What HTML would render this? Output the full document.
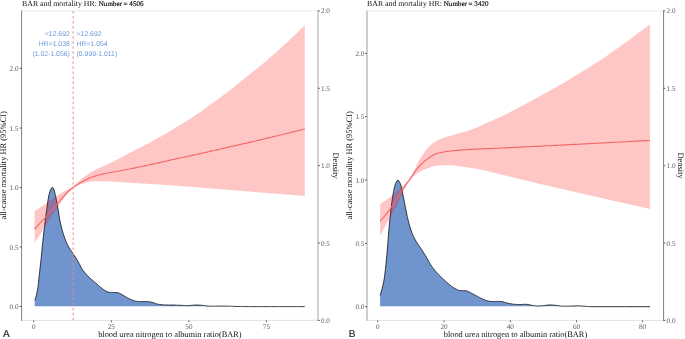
<!DOCTYPE html>
<html><head><meta charset="utf-8"><title>BAR and mortality HR</title>
<style>html,body{margin:0;padding:0;background:#fff}svg{display:block}text{text-rendering:geometricPrecision}</style></head>
<body>
<svg width="685" height="339" viewBox="0 0 685 339">
<rect width="685" height="339" fill="#ffffff"/>
<line x1="21.55" y1="10.9" x2="318.05" y2="10.9" stroke="#e6e6e6" stroke-width="0.9"/>
<line x1="21.55" y1="320.4" x2="318.05" y2="320.4" stroke="#dcdcdc" stroke-width="0.9"/>
<polygon points="34.7,300.5 35.6,298.1 36.2,296.0 36.5,294.8 37.4,290.7 37.7,289.0 38.3,284.3 39.2,275.8 39.3,275.0 40.1,267.9 41.0,260.0 41.0,259.8 41.9,250.5 42.6,243.7 42.8,241.6 43.7,233.6 44.5,227.2 44.6,226.1 45.5,218.7 46.4,211.6 46.9,208.3 47.3,205.2 48.2,199.2 49.1,194.4 49.2,194.2 50.1,191.1 50.8,189.2 51.0,188.9 51.9,187.5 52.3,187.3 52.8,187.5 53.7,188.9 53.8,189.2 54.6,191.8 55.1,194.2 55.5,195.8 56.4,200.1 57.3,204.8 57.5,206.0 58.2,210.1 59.1,216.0 59.8,220.1 60.0,221.0 60.9,225.0 61.8,228.7 62.7,231.9 63.4,234.2 63.6,234.8 64.5,237.5 65.4,239.9 66.3,242.2 67.2,244.2 68.1,246.0 68.1,246.0 69.0,247.6 69.9,249.0 70.8,250.3 71.7,251.6 72.6,252.8 73.4,254.0 73.5,254.2 74.4,255.6 75.3,257.0 76.2,258.4 77.1,259.9 77.5,260.5 78.0,261.5 78.9,263.2 79.9,264.9 80.8,266.7 81.7,268.4 82.6,269.8 82.9,270.3 83.5,271.0 84.4,272.2 85.3,273.2 86.2,274.3 87.1,275.2 88.0,276.1 88.9,277.0 89.8,277.9 90.7,278.7 91.6,279.5 92.5,280.3 93.4,281.1 94.3,281.8 95.2,282.6 95.5,282.9 96.1,283.4 97.0,284.2 97.9,285.0 98.8,285.8 99.7,286.6 100.6,287.3 101.5,288.0 102.4,288.7 103.3,289.4 104.0,289.8 104.2,290.0 105.1,290.6 106.0,291.2 106.9,291.6 107.8,292.0 108.0,292.0 108.7,292.1 109.6,292.3 110.6,292.4 111.5,292.4 112.4,292.5 112.5,292.5 113.3,292.5 114.2,292.5 115.1,292.6 116.0,292.6 116.8,292.6 116.9,292.6 117.8,292.7 118.7,293.0 119.6,293.4 120.5,293.8 121.0,294.0 121.4,294.2 122.3,294.7 123.2,295.2 124.1,295.8 125.0,296.4 125.6,296.7 125.9,296.9 126.8,297.4 127.7,297.9 128.6,298.4 129.5,298.8 130.4,299.2 131.0,299.5 131.3,299.6 132.2,300.0 133.1,300.4 134.0,300.8 134.9,301.1 135.7,301.2 135.8,301.2 136.7,301.3 137.6,301.4 138.5,301.5 139.4,301.5 140.4,301.6 141.3,301.6 142.0,301.6 142.2,301.6 143.1,301.6 144.0,301.6 144.9,301.6 145.8,301.6 146.7,301.6 147.6,301.6 148.2,301.6 148.5,301.6 149.4,301.7 150.3,301.9 151.2,302.1 152.1,302.4 153.0,302.6 153.0,302.6 153.9,302.9 154.8,303.2 155.7,303.5 156.6,303.9 157.5,304.1 158.3,304.3 158.4,304.3 159.3,304.4 160.2,304.5 161.1,304.6 162.0,304.7 162.9,304.8 163.8,304.9 164.7,304.9 165.0,304.9 165.6,304.9 166.5,304.9 167.4,304.9 168.3,305.0 169.2,305.0 170.2,305.0 171.1,305.0 172.0,305.0 172.0,305.0 172.9,305.0 173.8,305.0 174.7,305.1 175.6,305.1 176.5,305.2 177.4,305.2 178.3,305.2 179.2,305.3 180.0,305.3 180.1,305.3 181.0,305.3 181.9,305.4 182.8,305.4 183.7,305.5 184.6,305.5 185.5,305.6 186.4,305.6 187.3,305.6 188.0,305.6 188.2,305.6 189.1,305.6 190.0,305.5 190.9,305.4 191.8,305.3 192.7,305.2 193.6,305.1 194.5,305.1 195.4,305.0 196.0,305.0 196.3,305.0 197.2,305.0 198.1,305.1 199.0,305.1 200.0,305.2 200.9,305.2 201.8,305.3 202.7,305.4 203.0,305.4 203.6,305.5 204.5,305.6 205.4,305.7 206.3,305.8 207.2,306.0 208.1,306.1 209.0,306.2 209.9,306.2 210.0,306.2 210.8,306.2 211.7,306.2 212.6,306.2 213.5,306.2 214.4,306.2 215.3,306.2 216.2,306.2 217.1,306.2 218.0,306.1 218.9,306.1 219.8,306.1 220.7,306.1 221.6,306.1 222.5,306.1 223.4,306.1 224.3,306.1 225.0,306.1 225.2,306.1 226.1,306.1 227.0,306.1 227.9,306.1 228.8,306.2 229.8,306.2 230.7,306.2 231.6,306.3 232.5,306.3 233.4,306.4 234.3,306.4 235.2,306.4 236.1,306.5 237.0,306.5 237.9,306.5 238.0,306.5 238.8,306.5 239.7,306.5 240.6,306.5 241.5,306.5 242.4,306.5 243.3,306.5 244.2,306.6 245.1,306.6 246.0,306.6 246.9,306.6 247.8,306.6 248.7,306.6 249.6,306.6 250.5,306.6 251.4,306.6 252.3,306.6 253.2,306.6 254.1,306.6 255.0,306.6 255.0,306.6 255.9,306.6 256.8,306.6 257.7,306.6 258.6,306.6 259.5,306.6 260.5,306.6 261.4,306.6 262.3,306.6 263.2,306.6 264.1,306.6 265.0,306.6 265.9,306.6 266.8,306.6 267.7,306.6 268.6,306.6 269.5,306.6 270.4,306.6 271.3,306.6 272.2,306.6 273.1,306.6 274.0,306.6 274.9,306.6 275.8,306.6 276.7,306.6 277.6,306.6 278.5,306.6 279.4,306.6 280.3,306.6 281.2,306.6 282.1,306.6 283.0,306.6 283.9,306.6 284.8,306.6 285.7,306.6 286.6,306.6 287.5,306.6 288.4,306.6 289.3,306.6 290.3,306.6 291.2,306.6 292.1,306.6 293.0,306.6 293.9,306.6 294.8,306.6 295.7,306.6 296.6,306.6 297.5,306.6 298.4,306.6 299.3,306.6 300.2,306.6 301.1,306.6 302.0,306.6 302.9,306.6 303.8,306.6 304.7,306.6 304.7,306.3 34.7,306.3" fill="#6f94ce"/>
<polyline points="34.7,300.5 35.6,298.1 36.2,296.0 36.5,294.8 37.4,290.7 37.7,289.0 38.3,284.3 39.2,275.8 39.3,275.0 40.1,267.9 41.0,260.0 41.0,259.8 41.9,250.5 42.6,243.7 42.8,241.6 43.7,233.6 44.5,227.2 44.6,226.1 45.5,218.7 46.4,211.6 46.9,208.3 47.3,205.2 48.2,199.2 49.1,194.4 49.2,194.2 50.1,191.1 50.8,189.2 51.0,188.9 51.9,187.5 52.3,187.3 52.8,187.5 53.7,188.9 53.8,189.2 54.6,191.8 55.1,194.2 55.5,195.8 56.4,200.1 57.3,204.8 57.5,206.0 58.2,210.1 59.1,216.0 59.8,220.1 60.0,221.0 60.9,225.0 61.8,228.7 62.7,231.9 63.4,234.2 63.6,234.8 64.5,237.5 65.4,239.9 66.3,242.2 67.2,244.2 68.1,246.0 68.1,246.0 69.0,247.6 69.9,249.0 70.8,250.3 71.7,251.6 72.6,252.8 73.4,254.0 73.5,254.2 74.4,255.6 75.3,257.0 76.2,258.4 77.1,259.9 77.5,260.5 78.0,261.5 78.9,263.2 79.9,264.9 80.8,266.7 81.7,268.4 82.6,269.8 82.9,270.3 83.5,271.0 84.4,272.2 85.3,273.2 86.2,274.3 87.1,275.2 88.0,276.1 88.9,277.0 89.8,277.9 90.7,278.7 91.6,279.5 92.5,280.3 93.4,281.1 94.3,281.8 95.2,282.6 95.5,282.9 96.1,283.4 97.0,284.2 97.9,285.0 98.8,285.8 99.7,286.6 100.6,287.3 101.5,288.0 102.4,288.7 103.3,289.4 104.0,289.8 104.2,290.0 105.1,290.6 106.0,291.2 106.9,291.6 107.8,292.0 108.0,292.0 108.7,292.1 109.6,292.3 110.6,292.4 111.5,292.4 112.4,292.5 112.5,292.5 113.3,292.5 114.2,292.5 115.1,292.6 116.0,292.6 116.8,292.6 116.9,292.6 117.8,292.7 118.7,293.0 119.6,293.4 120.5,293.8 121.0,294.0 121.4,294.2 122.3,294.7 123.2,295.2 124.1,295.8 125.0,296.4 125.6,296.7 125.9,296.9 126.8,297.4 127.7,297.9 128.6,298.4 129.5,298.8 130.4,299.2 131.0,299.5 131.3,299.6 132.2,300.0 133.1,300.4 134.0,300.8 134.9,301.1 135.7,301.2 135.8,301.2 136.7,301.3 137.6,301.4 138.5,301.5 139.4,301.5 140.4,301.6 141.3,301.6 142.0,301.6 142.2,301.6 143.1,301.6 144.0,301.6 144.9,301.6 145.8,301.6 146.7,301.6 147.6,301.6 148.2,301.6 148.5,301.6 149.4,301.7 150.3,301.9 151.2,302.1 152.1,302.4 153.0,302.6 153.0,302.6 153.9,302.9 154.8,303.2 155.7,303.5 156.6,303.9 157.5,304.1 158.3,304.3 158.4,304.3 159.3,304.4 160.2,304.5 161.1,304.6 162.0,304.7 162.9,304.8 163.8,304.9 164.7,304.9 165.0,304.9 165.6,304.9 166.5,304.9 167.4,304.9 168.3,305.0 169.2,305.0 170.2,305.0 171.1,305.0 172.0,305.0 172.0,305.0 172.9,305.0 173.8,305.0 174.7,305.1 175.6,305.1 176.5,305.2 177.4,305.2 178.3,305.2 179.2,305.3 180.0,305.3 180.1,305.3 181.0,305.3 181.9,305.4 182.8,305.4 183.7,305.5 184.6,305.5 185.5,305.6 186.4,305.6 187.3,305.6 188.0,305.6 188.2,305.6 189.1,305.6 190.0,305.5 190.9,305.4 191.8,305.3 192.7,305.2 193.6,305.1 194.5,305.1 195.4,305.0 196.0,305.0 196.3,305.0 197.2,305.0 198.1,305.1 199.0,305.1 200.0,305.2 200.9,305.2 201.8,305.3 202.7,305.4 203.0,305.4 203.6,305.5 204.5,305.6 205.4,305.7 206.3,305.8 207.2,306.0 208.1,306.1 209.0,306.2 209.9,306.2 210.0,306.2 210.8,306.2 211.7,306.2 212.6,306.2 213.5,306.2 214.4,306.2 215.3,306.2 216.2,306.2 217.1,306.2 218.0,306.1 218.9,306.1 219.8,306.1 220.7,306.1 221.6,306.1 222.5,306.1 223.4,306.1 224.3,306.1 225.0,306.1 225.2,306.1 226.1,306.1 227.0,306.1 227.9,306.1 228.8,306.2 229.8,306.2 230.7,306.2 231.6,306.3 232.5,306.3 233.4,306.4 234.3,306.4 235.2,306.4 236.1,306.5 237.0,306.5 237.9,306.5 238.0,306.5 238.8,306.5 239.7,306.5 240.6,306.5 241.5,306.5 242.4,306.5 243.3,306.5 244.2,306.6 245.1,306.6 246.0,306.6 246.9,306.6 247.8,306.6 248.7,306.6 249.6,306.6 250.5,306.6 251.4,306.6 252.3,306.6 253.2,306.6 254.1,306.6 255.0,306.6 255.0,306.6 255.9,306.6 256.8,306.6 257.7,306.6 258.6,306.6 259.5,306.6 260.5,306.6 261.4,306.6 262.3,306.6 263.2,306.6 264.1,306.6 265.0,306.6 265.9,306.6 266.8,306.6 267.7,306.6 268.6,306.6 269.5,306.6 270.4,306.6 271.3,306.6 272.2,306.6 273.1,306.6 274.0,306.6 274.9,306.6 275.8,306.6 276.7,306.6 277.6,306.6 278.5,306.6 279.4,306.6 280.3,306.6 281.2,306.6 282.1,306.6 283.0,306.6 283.9,306.6 284.8,306.6 285.7,306.6 286.6,306.6 287.5,306.6 288.4,306.6 289.3,306.6 290.3,306.6 291.2,306.6 292.1,306.6 293.0,306.6 293.9,306.6 294.8,306.6 295.7,306.6 296.6,306.6 297.5,306.6 298.4,306.6 299.3,306.6 300.2,306.6 301.1,306.6 302.0,306.6 302.9,306.6 303.8,306.6 304.7,306.6" fill="none" stroke="#1a1a1a" stroke-width="0.85" stroke-linejoin="round"/>
<polygon points="34.6,211.2 36.0,210.3 37.3,209.4 38.7,208.5 40.0,207.6 41.4,206.6 42.2,206.1 42.7,205.7 44.1,204.8 45.5,203.9 46.8,202.9 47.6,202.4 48.2,202.0 49.5,201.1 50.9,200.1 52.3,199.2 52.4,199.1 53.6,198.2 55.0,197.3 56.3,196.3 57.1,195.8 57.7,195.4 59.0,194.5 60.4,193.7 61.0,193.3 61.8,192.8 63.1,192.0 64.5,191.2 65.1,190.8 65.8,190.4 67.2,189.7 68.5,188.9 69.0,188.7 69.9,188.3 71.3,187.6 72.6,186.9 73.3,186.5 74.0,186.0 75.3,184.7 76.7,183.2 77.7,182.2 78.0,181.9 79.4,180.7 80.8,179.5 82.1,178.4 82.1,178.4 83.5,177.3 84.8,176.3 86.2,175.4 87.6,174.4 88.9,173.6 89.5,173.2 90.3,172.7 91.6,171.9 93.0,171.2 94.3,170.5 95.7,169.8 96.8,169.2 97.1,169.1 98.4,168.4 99.8,167.8 101.1,167.2 102.5,166.6 103.8,166.0 104.2,165.8 105.2,165.3 106.6,164.7 107.9,164.1 109.3,163.5 110.6,162.8 111.5,162.4 112.0,162.2 113.4,161.5 114.7,160.8 116.1,160.1 117.4,159.5 118.8,158.8 118.9,158.7 120.1,158.0 121.5,157.3 122.9,156.6 124.2,155.8 125.6,155.1 126.9,154.3 128.3,153.6 129.6,152.9 130.0,152.7 131.0,152.2 132.4,151.5 133.7,150.8 135.1,150.1 136.4,149.4 137.8,148.8 139.1,148.1 140.5,147.4 141.9,146.7 143.2,146.0 144.6,145.3 145.6,144.8 145.9,144.6 147.3,143.9 148.7,143.2 150.0,142.5 151.4,141.7 152.7,141.0 154.1,140.3 155.4,139.5 156.8,138.8 158.2,138.0 158.2,138.0 159.5,137.3 160.9,136.5 162.2,135.7 163.5,135.0 163.6,134.9 164.9,134.2 166.3,133.3 167.7,132.5 169.0,131.7 170.4,130.9 171.7,130.1 172.0,129.9 173.1,129.2 174.5,128.4 175.8,127.6 177.2,126.8 178.5,125.9 179.9,125.1 181.2,124.3 182.6,123.5 184.0,122.6 185.3,121.8 186.7,120.9 188.0,120.1 189.4,119.2 190.7,118.4 192.1,117.5 193.5,116.6 193.6,116.5 194.8,115.7 196.2,114.8 197.5,113.8 198.9,112.9 200.3,111.9 201.6,111.0 203.0,110.0 204.3,109.0 205.7,108.1 207.0,107.1 208.4,106.1 209.8,105.1 211.1,104.1 212.5,103.1 213.8,102.1 215.2,101.2 216.5,100.2 216.8,100.0 217.9,99.2 219.3,98.2 220.6,97.3 222.0,96.3 223.3,95.3 223.7,95.0 224.7,94.3 226.0,93.2 227.4,92.2 228.8,91.1 230.1,90.0 231.5,88.9 232.8,87.9 234.2,86.8 235.6,85.7 236.9,84.6 238.3,83.5 239.6,82.4 241.0,81.3 242.1,80.4 242.3,80.2 243.7,79.1 245.1,78.0 246.4,77.0 247.8,75.9 249.1,74.8 250.5,73.7 251.8,72.6 253.2,71.5 254.6,70.4 255.9,69.4 257.3,68.3 258.6,67.2 260.0,66.1 261.4,64.9 262.7,63.8 264.1,62.7 265.4,61.6 266.8,60.4 267.3,60.0 268.1,59.3 269.5,58.1 270.9,57.0 272.2,55.8 273.6,54.6 274.9,53.4 276.3,52.2 277.6,51.0 279.0,49.8 280.0,48.9 280.4,48.6 281.7,47.3 283.1,46.1 284.4,44.8 285.8,43.6 287.1,42.3 288.5,41.0 289.9,39.7 291.2,38.4 292.6,37.1 292.6,37.1 293.9,35.8 295.3,34.5 296.7,33.2 298.0,31.8 299.4,30.5 300.7,29.1 302.1,27.8 303.4,26.4 304.8,25.0 304.8,195.9 303.4,195.8 302.1,195.7 300.7,195.6 299.4,195.5 298.0,195.4 296.7,195.3 295.3,195.2 293.9,195.1 292.6,195.0 291.2,194.8 289.9,194.7 288.5,194.6 287.1,194.5 285.8,194.4 284.4,194.3 283.1,194.2 281.7,194.1 280.4,194.0 279.0,193.9 277.6,193.8 276.3,193.7 274.9,193.6 273.6,193.5 272.2,193.4 270.9,193.3 269.5,193.1 268.1,193.0 266.8,192.9 265.4,192.8 264.1,192.7 262.7,192.6 261.4,192.5 260.0,192.4 258.6,192.3 257.3,192.2 255.9,192.1 254.6,192.0 253.2,191.9 251.8,191.7 250.5,191.6 249.1,191.5 247.8,191.4 246.4,191.3 245.1,191.2 243.7,191.1 242.3,191.0 241.0,190.9 239.6,190.8 238.3,190.7 236.9,190.6 235.6,190.4 234.2,190.3 232.8,190.2 231.5,190.1 230.1,190.0 230.0,190.0 228.8,189.9 227.4,189.8 226.0,189.7 224.7,189.6 223.3,189.5 222.0,189.3 220.6,189.2 219.3,189.1 217.9,189.0 216.5,188.9 215.2,188.8 213.8,188.7 212.5,188.6 211.1,188.4 209.8,188.3 208.4,188.2 207.0,188.1 205.7,188.0 204.3,187.9 203.0,187.8 201.6,187.7 200.3,187.5 198.9,187.4 197.5,187.3 196.2,187.2 194.8,187.1 193.5,187.0 192.1,186.9 192.1,186.9 190.7,186.8 189.4,186.7 188.0,186.6 186.7,186.5 185.3,186.4 184.0,186.3 182.6,186.2 181.2,186.1 179.9,186.0 178.5,185.9 177.2,185.8 175.8,185.7 174.5,185.6 173.1,185.5 172.0,185.4 171.7,185.4 170.4,185.3 169.0,185.2 167.7,185.1 166.3,185.0 164.9,184.9 163.6,184.8 162.2,184.8 160.9,184.7 159.5,184.6 158.2,184.5 156.8,184.4 155.4,184.3 154.1,184.3 152.7,184.2 151.4,184.1 150.0,184.0 150.0,184.0 148.7,183.9 147.3,183.8 145.9,183.7 144.6,183.6 143.2,183.6 141.9,183.5 140.5,183.4 139.1,183.3 137.8,183.2 136.4,183.1 135.1,183.0 133.7,182.9 132.4,182.9 131.0,182.8 130.0,182.7 129.6,182.7 128.3,182.6 126.9,182.5 125.6,182.4 124.2,182.3 122.9,182.2 121.5,182.2 120.1,182.1 118.9,182.0 118.8,182.0 117.4,181.9 116.1,181.8 114.7,181.8 113.4,181.7 112.0,181.6 111.5,181.6 110.6,181.6 109.3,181.5 107.9,181.4 106.6,181.3 105.2,181.3 104.2,181.3 103.8,181.3 102.5,181.3 101.1,181.3 99.8,181.3 98.4,181.3 97.1,181.3 96.8,181.3 95.7,181.3 94.3,181.4 93.0,181.5 91.6,181.6 90.3,181.8 89.5,181.9 88.9,182.0 87.6,182.2 86.2,182.6 84.8,182.9 83.5,183.4 82.1,183.8 82.1,183.8 80.8,184.3 79.4,184.8 78.0,185.4 77.7,185.6 76.7,186.1 75.3,186.9 74.0,187.8 73.3,188.3 72.6,188.8 71.3,190.0 69.9,191.4 69.0,192.3 68.5,192.8 67.2,194.2 65.8,195.7 65.1,196.6 64.5,197.4 63.1,199.3 61.8,201.2 61.0,202.3 60.4,203.2 59.0,205.2 57.9,206.9 57.7,207.2 56.3,209.3 55.0,211.4 53.6,213.4 52.4,215.3 52.3,215.5 50.9,217.6 49.5,219.7 48.2,221.8 47.6,222.7 46.8,223.9 45.5,226.0 44.1,228.1 42.7,230.2 42.2,231.0 41.4,232.3 40.0,234.4 38.7,236.5 37.3,238.6 36.0,240.7 34.6,242.8" fill="#ff0000" fill-opacity="0.225"/>
<polyline points="34.6,229.0 36.0,227.5 37.3,226.1 38.7,224.6 40.0,223.1 41.4,221.7 42.2,220.8 42.7,220.2 44.1,218.8 45.5,217.3 46.8,215.9 47.6,215.0 48.2,214.4 49.5,212.8 50.9,211.2 52.3,209.7 52.4,209.5 53.6,208.1 55.0,206.5 56.3,204.9 57.1,204.0 57.7,203.3 59.0,201.7 60.4,200.1 61.0,199.4 61.8,198.5 63.1,196.9 64.5,195.3 65.1,194.6 65.8,193.8 67.2,192.4 68.5,191.1 69.0,190.7 69.9,189.9 71.3,188.9 72.6,187.9 73.3,187.4 74.0,186.9 75.3,186.0 76.7,185.1 77.7,184.4 78.0,184.2 79.4,183.3 80.8,182.5 82.1,181.8 82.1,181.8 83.5,181.0 84.8,180.3 86.2,179.6 87.6,179.0 88.9,178.3 89.5,178.1 90.3,177.8 91.6,177.3 93.0,176.8 94.3,176.4 95.7,175.9 96.8,175.6 97.1,175.5 98.4,175.1 99.8,174.8 101.1,174.4 102.5,174.1 103.8,173.8 104.2,173.7 105.2,173.5 106.6,173.2 107.9,173.0 109.3,172.7 110.6,172.5 111.5,172.3 112.0,172.2 113.4,172.0 114.7,171.7 116.1,171.5 117.4,171.3 118.8,171.0 118.9,171.0 120.1,170.8 121.5,170.5 122.9,170.3 124.2,170.0 125.6,169.8 126.9,169.5 128.3,169.2 129.6,169.0 130.0,168.9 131.0,168.7 132.4,168.4 133.7,168.2 135.1,167.9 136.4,167.6 137.8,167.3 139.1,167.0 140.5,166.7 141.9,166.5 143.2,166.2 144.6,165.9 145.9,165.6 147.3,165.3 148.7,165.0 150.0,164.7 151.4,164.4 152.7,164.1 154.1,163.8 155.4,163.5 156.8,163.2 158.2,162.9 158.2,162.9 159.5,162.6 160.9,162.3 162.2,162.0 163.6,161.7 164.9,161.4 166.3,161.1 167.7,160.8 169.0,160.4 170.4,160.1 171.7,159.8 173.1,159.5 174.5,159.2 175.0,159.1 175.8,158.9 177.2,158.6 178.5,158.3 179.9,158.0 181.2,157.7 182.6,157.5 184.0,157.2 185.3,156.9 186.7,156.6 188.0,156.3 189.4,156.0 190.7,155.7 192.1,155.4 192.1,155.4 193.5,155.1 194.8,154.8 196.2,154.5 197.5,154.2 198.9,153.9 200.3,153.6 201.6,153.3 203.0,153.0 204.3,152.7 205.7,152.4 207.0,152.1 208.4,151.8 209.8,151.4 211.1,151.1 212.5,150.8 213.8,150.5 215.2,150.2 216.5,149.9 217.9,149.6 219.3,149.3 220.6,149.0 222.0,148.7 223.3,148.4 224.7,148.1 226.0,147.7 227.4,147.4 228.8,147.1 230.1,146.8 231.5,146.5 232.8,146.2 234.2,145.9 235.6,145.6 236.9,145.3 238.3,144.9 239.6,144.6 241.0,144.3 242.3,144.0 243.7,143.7 245.1,143.4 246.4,143.1 247.8,142.7 249.1,142.4 250.5,142.1 251.8,141.8 253.2,141.5 254.6,141.2 255.9,140.8 257.3,140.5 258.6,140.2 260.0,139.9 261.4,139.6 262.7,139.2 264.1,138.9 265.4,138.6 266.8,138.3 268.1,137.9 269.5,137.6 270.9,137.3 272.2,137.0 273.6,136.6 274.9,136.3 276.3,136.0 277.6,135.7 279.0,135.3 280.4,135.0 281.7,134.7 283.1,134.3 284.4,134.0 285.8,133.7 287.1,133.4 288.5,133.0 289.9,132.7 291.2,132.4 292.6,132.0 293.9,131.7 295.3,131.4 296.7,131.0 298.0,130.7 299.4,130.4 300.7,130.0 302.1,129.7 303.4,129.3 304.8,129.0" fill="none" stroke="#f46666" stroke-width="1.15" stroke-linejoin="round"/>
<line x1="73.15" y1="320.4" x2="73.15" y2="10.9" stroke="#f68888" stroke-width="1.0" stroke-dasharray="2.5,2.53"/>
<g font-family="'Liberation Sans', sans-serif" font-size="6.85" fill="#6e98dc">
<text x="69.8" y="36.3" text-anchor="end">&lt;12.692</text>
<text x="69.8" y="46.3" text-anchor="end">HR=1.038</text>
<text x="69.8" y="56.2" text-anchor="end">(1.02-1.056)</text>
<text x="76.6" y="36.3">&gt;12.692</text>
<text x="76.6" y="46.3">HR=1.054</text>
<text x="76.6" y="56.2">(0.999-1.011)</text>
</g>
<line x1="21.55" y1="10.5" x2="21.55" y2="320.79999999999995" stroke="#8c8c8c" stroke-width="1.1"/>
<line x1="318.05" y1="10.5" x2="318.05" y2="320.79999999999995" stroke="#d0d0d0" stroke-width="1.9"/>
<line x1="19.65" y1="68.3" x2="21.65" y2="68.3" stroke="#3a3a3a" stroke-width="0.8"/>
<text x="18.5" y="70.85" text-anchor="end" font-family="'Liberation Serif', serif" font-size="7.15" fill="#585858">2.0</text>
<line x1="19.65" y1="128.0" x2="21.65" y2="128.0" stroke="#3a3a3a" stroke-width="0.8"/>
<text x="18.5" y="130.55" text-anchor="end" font-family="'Liberation Serif', serif" font-size="7.15" fill="#585858">1.5</text>
<line x1="19.65" y1="187.6" x2="21.65" y2="187.6" stroke="#3a3a3a" stroke-width="0.8"/>
<text x="18.5" y="190.15" text-anchor="end" font-family="'Liberation Serif', serif" font-size="7.15" fill="#585858">1.0</text>
<line x1="19.65" y1="247.0" x2="21.65" y2="247.0" stroke="#3a3a3a" stroke-width="0.8"/>
<text x="18.5" y="249.55" text-anchor="end" font-family="'Liberation Serif', serif" font-size="7.15" fill="#585858">0.5</text>
<line x1="19.65" y1="306.5" x2="21.65" y2="306.5" stroke="#3a3a3a" stroke-width="0.8"/>
<text x="18.5" y="309.05" text-anchor="end" font-family="'Liberation Serif', serif" font-size="7.15" fill="#585858">0.0</text>
<line x1="317.95" y1="10.9" x2="319.85" y2="10.9" stroke="#3a3a3a" stroke-width="0.8"/>
<text x="320.9" y="13.45" font-family="'Liberation Serif', serif" font-size="7.15" fill="#585858">2.0</text>
<line x1="317.95" y1="88.3" x2="319.85" y2="88.3" stroke="#3a3a3a" stroke-width="0.8"/>
<text x="320.9" y="90.83" font-family="'Liberation Serif', serif" font-size="7.15" fill="#585858">1.5</text>
<line x1="317.95" y1="165.7" x2="319.85" y2="165.7" stroke="#3a3a3a" stroke-width="0.8"/>
<text x="320.9" y="168.20" font-family="'Liberation Serif', serif" font-size="7.15" fill="#585858">1.0</text>
<line x1="317.95" y1="243.0" x2="319.85" y2="243.0" stroke="#3a3a3a" stroke-width="0.8"/>
<text x="320.9" y="245.58" font-family="'Liberation Serif', serif" font-size="7.15" fill="#585858">0.5</text>
<line x1="317.95" y1="320.4" x2="319.85" y2="320.4" stroke="#3a3a3a" stroke-width="0.8"/>
<text x="320.9" y="322.95" font-family="'Liberation Serif', serif" font-size="7.15" fill="#585858">0.0</text>
<line x1="33.7" y1="320.4" x2="33.7" y2="322.29999999999995" stroke="#3a3a3a" stroke-width="0.8"/>
<text x="33.7" y="328.6" text-anchor="middle" font-family="'Liberation Serif', serif" font-size="7.15" fill="#585858">0</text>
<line x1="111.3" y1="320.4" x2="111.3" y2="322.29999999999995" stroke="#3a3a3a" stroke-width="0.8"/>
<text x="111.3" y="328.6" text-anchor="middle" font-family="'Liberation Serif', serif" font-size="7.15" fill="#585858">25</text>
<line x1="188.9" y1="320.4" x2="188.9" y2="322.29999999999995" stroke="#3a3a3a" stroke-width="0.8"/>
<text x="188.9" y="328.6" text-anchor="middle" font-family="'Liberation Serif', serif" font-size="7.15" fill="#585858">50</text>
<line x1="266.4" y1="320.4" x2="266.4" y2="322.29999999999995" stroke="#3a3a3a" stroke-width="0.8"/>
<text x="266.4" y="328.6" text-anchor="middle" font-family="'Liberation Serif', serif" font-size="7.15" fill="#585858">75</text>
<text x="169.9" y="337.3" text-anchor="middle" font-family="'Liberation Serif', serif" font-size="8.35" fill="#111">blood urea nitrogen to albumin ratio(BAR)</text>
<text transform="translate(6.4,165.4) rotate(-90)" text-anchor="middle" font-family="'Liberation Serif', serif" font-size="8.43" fill="#111">all-cause mortality HR (95%CI)</text>
<text transform="translate(333.0,165.6) rotate(90)" text-anchor="middle" font-family="'Liberation Serif', serif" font-size="8.5" fill="#111">Density</text>
<text x="22.1" y="5.6" font-family="'Liberation Serif', serif" font-size="7.8" fill="#111">BAR and mortality HR: <tspan font-size="7.05" stroke="#111" stroke-width="0.18">Number = 4506</tspan></text>
<text x="2.9" y="337.1" font-family="'Liberation Sans', sans-serif" font-size="10" fill="#1a1a1a" stroke="#1a1a1a" stroke-width="0.15">A</text>
<line x1="366.95" y1="10.9" x2="663.55" y2="10.9" stroke="#e6e6e6" stroke-width="0.9"/>
<line x1="366.95" y1="320.4" x2="663.55" y2="320.4" stroke="#dcdcdc" stroke-width="0.9"/>
<polygon points="380.1,295.4 381.0,292.6 381.9,289.4 382.0,289.0 382.8,285.8 383.7,281.7 384.2,279.0 384.6,276.2 385.5,268.6 385.8,266.0 386.4,259.8 387.3,250.0 387.3,249.8 388.2,238.5 389.0,229.0 389.1,227.6 390.0,218.2 390.9,210.1 390.9,209.9 391.8,202.6 392.7,196.3 393.2,193.6 393.6,191.4 394.5,187.2 395.4,184.1 395.6,183.7 396.3,182.1 397.2,180.6 398.0,180.1 398.1,180.1 399.0,181.1 400.0,182.9 400.3,183.7 400.9,185.3 401.8,189.1 402.7,193.4 402.7,193.6 403.6,197.9 404.5,202.6 405.0,205.4 405.4,207.3 406.3,211.8 407.2,216.2 407.4,217.2 408.1,220.1 409.0,223.7 409.8,226.6 409.9,226.8 410.8,229.6 411.7,232.2 412.6,234.5 413.3,236.1 413.5,236.5 414.4,238.3 415.3,239.9 416.2,241.4 417.1,242.9 418.0,244.3 418.0,244.3 418.9,245.7 419.8,246.9 420.7,248.2 421.6,249.5 421.6,249.5 422.5,250.9 423.4,252.3 424.3,253.8 424.4,253.9 425.2,255.3 426.1,256.8 427.0,258.4 427.9,260.0 428.8,261.6 429.7,263.2 430.6,264.6 431.5,266.0 431.9,266.5 432.4,267.2 433.3,268.4 434.2,269.5 435.1,270.6 436.0,271.7 436.9,272.7 437.8,273.7 438.8,274.7 439.7,275.6 440.6,276.5 441.5,277.4 442.4,278.3 443.3,279.2 444.2,280.0 444.5,280.3 445.1,280.8 446.0,281.6 446.9,282.5 447.8,283.3 448.7,284.0 449.6,284.8 450.5,285.5 451.4,286.2 452.3,286.9 453.2,287.5 454.1,288.0 454.6,288.3 455.0,288.5 455.9,289.0 456.8,289.5 457.7,289.9 458.6,290.2 459.5,290.4 459.6,290.4 460.4,290.5 461.3,290.6 462.2,290.7 463.0,290.7 463.1,290.7 464.0,290.7 464.9,290.8 465.8,290.8 465.9,290.8 466.7,290.9 467.6,291.3 468.5,291.7 469.4,292.1 470.0,292.4 470.3,292.6 471.2,293.0 472.1,293.5 473.0,294.0 473.9,294.5 474.7,294.9 474.8,295.0 475.7,295.5 476.7,295.9 477.6,296.4 478.5,296.9 479.4,297.4 480.3,297.9 481.2,298.3 482.1,298.8 483.0,299.2 483.9,299.6 484.7,299.9 484.8,299.9 485.7,300.3 486.6,300.6 487.5,300.8 488.4,301.1 489.0,301.2 489.3,301.2 490.2,301.4 491.1,301.5 492.0,301.6 492.2,301.6 492.9,301.6 493.8,301.5 494.7,301.5 495.6,301.4 496.5,301.4 497.0,301.4 497.4,301.4 498.3,301.4 499.2,301.4 500.1,301.5 501.0,301.5 501.0,301.5 501.9,301.6 502.8,301.8 503.7,302.1 504.6,302.3 505.0,302.4 505.5,302.5 506.4,302.8 507.3,303.0 508.2,303.3 509.1,303.5 509.8,303.6 510.0,303.6 510.9,303.8 511.8,303.9 512.7,304.1 513.6,304.2 514.5,304.3 515.5,304.4 516.1,304.4 516.4,304.4 517.3,304.4 518.2,304.5 519.1,304.5 520.0,304.5 520.9,304.5 521.0,304.5 521.8,304.5 522.7,304.4 523.6,304.4 524.5,304.3 525.4,304.3 525.6,304.3 526.3,304.3 527.2,304.4 528.1,304.6 529.0,304.7 529.9,304.9 530.8,305.1 531.7,305.3 532.0,305.3 532.6,305.4 533.5,305.5 534.4,305.7 535.3,305.8 536.2,305.9 537.1,306.0 538.0,306.0 538.1,306.0 538.9,306.0 539.8,305.9 540.7,305.8 541.6,305.8 542.5,305.7 543.4,305.6 544.0,305.5 544.3,305.5 545.2,305.4 546.1,305.3 547.0,305.2 547.9,305.1 548.8,305.0 549.7,304.9 550.6,304.9 550.7,304.9 551.5,304.9 552.4,305.0 553.3,305.1 554.3,305.2 555.2,305.3 556.1,305.4 557.0,305.5 557.0,305.5 557.9,305.6 558.8,305.7 559.7,305.9 560.6,306.0 561.5,306.1 562.4,306.2 563.3,306.2 563.3,306.2 564.2,306.2 565.1,306.2 566.0,306.2 566.9,306.2 567.8,306.2 568.7,306.1 569.6,306.1 570.5,306.1 571.0,306.1 571.4,306.1 572.3,306.1 573.2,306.0 574.1,306.0 575.0,305.9 575.9,305.9 576.8,305.8 577.7,305.8 578.3,305.8 578.6,305.8 579.5,305.8 580.4,305.9 581.3,306.0 582.2,306.1 583.1,306.2 584.0,306.2 584.9,306.3 585.8,306.4 586.0,306.4 586.7,306.4 587.6,306.5 588.5,306.5 589.4,306.6 590.3,306.6 591.2,306.7 592.2,306.7 593.1,306.7 593.4,306.7 594.0,306.7 594.9,306.7 595.8,306.7 596.7,306.7 597.6,306.7 598.5,306.7 599.4,306.7 600.3,306.7 601.2,306.7 602.1,306.7 603.0,306.7 603.9,306.7 604.8,306.7 605.7,306.7 606.6,306.7 607.5,306.7 608.4,306.7 609.3,306.7 610.2,306.7 611.1,306.7 612.0,306.7 612.9,306.7 613.8,306.7 614.7,306.7 615.6,306.7 616.5,306.7 617.4,306.7 618.3,306.7 619.2,306.7 620.1,306.7 621.0,306.7 621.9,306.7 622.8,306.7 623.7,306.7 624.6,306.7 625.5,306.7 626.4,306.7 627.3,306.7 628.2,306.7 629.1,306.7 630.0,306.7 631.0,306.7 631.9,306.7 632.8,306.7 633.7,306.7 634.6,306.7 635.5,306.7 636.4,306.7 637.3,306.7 638.2,306.7 639.1,306.7 640.0,306.7 640.9,306.7 641.8,306.7 642.7,306.7 643.6,306.7 644.5,306.7 645.4,306.7 646.3,306.7 647.2,306.7 648.1,306.7 649.0,306.7 649.9,306.7 649.9,306.3 380.1,306.3" fill="#6f94ce"/>
<polyline points="380.1,295.4 381.0,292.6 381.9,289.4 382.0,289.0 382.8,285.8 383.7,281.7 384.2,279.0 384.6,276.2 385.5,268.6 385.8,266.0 386.4,259.8 387.3,250.0 387.3,249.8 388.2,238.5 389.0,229.0 389.1,227.6 390.0,218.2 390.9,210.1 390.9,209.9 391.8,202.6 392.7,196.3 393.2,193.6 393.6,191.4 394.5,187.2 395.4,184.1 395.6,183.7 396.3,182.1 397.2,180.6 398.0,180.1 398.1,180.1 399.0,181.1 400.0,182.9 400.3,183.7 400.9,185.3 401.8,189.1 402.7,193.4 402.7,193.6 403.6,197.9 404.5,202.6 405.0,205.4 405.4,207.3 406.3,211.8 407.2,216.2 407.4,217.2 408.1,220.1 409.0,223.7 409.8,226.6 409.9,226.8 410.8,229.6 411.7,232.2 412.6,234.5 413.3,236.1 413.5,236.5 414.4,238.3 415.3,239.9 416.2,241.4 417.1,242.9 418.0,244.3 418.0,244.3 418.9,245.7 419.8,246.9 420.7,248.2 421.6,249.5 421.6,249.5 422.5,250.9 423.4,252.3 424.3,253.8 424.4,253.9 425.2,255.3 426.1,256.8 427.0,258.4 427.9,260.0 428.8,261.6 429.7,263.2 430.6,264.6 431.5,266.0 431.9,266.5 432.4,267.2 433.3,268.4 434.2,269.5 435.1,270.6 436.0,271.7 436.9,272.7 437.8,273.7 438.8,274.7 439.7,275.6 440.6,276.5 441.5,277.4 442.4,278.3 443.3,279.2 444.2,280.0 444.5,280.3 445.1,280.8 446.0,281.6 446.9,282.5 447.8,283.3 448.7,284.0 449.6,284.8 450.5,285.5 451.4,286.2 452.3,286.9 453.2,287.5 454.1,288.0 454.6,288.3 455.0,288.5 455.9,289.0 456.8,289.5 457.7,289.9 458.6,290.2 459.5,290.4 459.6,290.4 460.4,290.5 461.3,290.6 462.2,290.7 463.0,290.7 463.1,290.7 464.0,290.7 464.9,290.8 465.8,290.8 465.9,290.8 466.7,290.9 467.6,291.3 468.5,291.7 469.4,292.1 470.0,292.4 470.3,292.6 471.2,293.0 472.1,293.5 473.0,294.0 473.9,294.5 474.7,294.9 474.8,295.0 475.7,295.5 476.7,295.9 477.6,296.4 478.5,296.9 479.4,297.4 480.3,297.9 481.2,298.3 482.1,298.8 483.0,299.2 483.9,299.6 484.7,299.9 484.8,299.9 485.7,300.3 486.6,300.6 487.5,300.8 488.4,301.1 489.0,301.2 489.3,301.2 490.2,301.4 491.1,301.5 492.0,301.6 492.2,301.6 492.9,301.6 493.8,301.5 494.7,301.5 495.6,301.4 496.5,301.4 497.0,301.4 497.4,301.4 498.3,301.4 499.2,301.4 500.1,301.5 501.0,301.5 501.0,301.5 501.9,301.6 502.8,301.8 503.7,302.1 504.6,302.3 505.0,302.4 505.5,302.5 506.4,302.8 507.3,303.0 508.2,303.3 509.1,303.5 509.8,303.6 510.0,303.6 510.9,303.8 511.8,303.9 512.7,304.1 513.6,304.2 514.5,304.3 515.5,304.4 516.1,304.4 516.4,304.4 517.3,304.4 518.2,304.5 519.1,304.5 520.0,304.5 520.9,304.5 521.0,304.5 521.8,304.5 522.7,304.4 523.6,304.4 524.5,304.3 525.4,304.3 525.6,304.3 526.3,304.3 527.2,304.4 528.1,304.6 529.0,304.7 529.9,304.9 530.8,305.1 531.7,305.3 532.0,305.3 532.6,305.4 533.5,305.5 534.4,305.7 535.3,305.8 536.2,305.9 537.1,306.0 538.0,306.0 538.1,306.0 538.9,306.0 539.8,305.9 540.7,305.8 541.6,305.8 542.5,305.7 543.4,305.6 544.0,305.5 544.3,305.5 545.2,305.4 546.1,305.3 547.0,305.2 547.9,305.1 548.8,305.0 549.7,304.9 550.6,304.9 550.7,304.9 551.5,304.9 552.4,305.0 553.3,305.1 554.3,305.2 555.2,305.3 556.1,305.4 557.0,305.5 557.0,305.5 557.9,305.6 558.8,305.7 559.7,305.9 560.6,306.0 561.5,306.1 562.4,306.2 563.3,306.2 563.3,306.2 564.2,306.2 565.1,306.2 566.0,306.2 566.9,306.2 567.8,306.2 568.7,306.1 569.6,306.1 570.5,306.1 571.0,306.1 571.4,306.1 572.3,306.1 573.2,306.0 574.1,306.0 575.0,305.9 575.9,305.9 576.8,305.8 577.7,305.8 578.3,305.8 578.6,305.8 579.5,305.8 580.4,305.9 581.3,306.0 582.2,306.1 583.1,306.2 584.0,306.2 584.9,306.3 585.8,306.4 586.0,306.4 586.7,306.4 587.6,306.5 588.5,306.5 589.4,306.6 590.3,306.6 591.2,306.7 592.2,306.7 593.1,306.7 593.4,306.7 594.0,306.7 594.9,306.7 595.8,306.7 596.7,306.7 597.6,306.7 598.5,306.7 599.4,306.7 600.3,306.7 601.2,306.7 602.1,306.7 603.0,306.7 603.9,306.7 604.8,306.7 605.7,306.7 606.6,306.7 607.5,306.7 608.4,306.7 609.3,306.7 610.2,306.7 611.1,306.7 612.0,306.7 612.9,306.7 613.8,306.7 614.7,306.7 615.6,306.7 616.5,306.7 617.4,306.7 618.3,306.7 619.2,306.7 620.1,306.7 621.0,306.7 621.9,306.7 622.8,306.7 623.7,306.7 624.6,306.7 625.5,306.7 626.4,306.7 627.3,306.7 628.2,306.7 629.1,306.7 630.0,306.7 631.0,306.7 631.9,306.7 632.8,306.7 633.7,306.7 634.6,306.7 635.5,306.7 636.4,306.7 637.3,306.7 638.2,306.7 639.1,306.7 640.0,306.7 640.9,306.7 641.8,306.7 642.7,306.7 643.6,306.7 644.5,306.7 645.4,306.7 646.3,306.7 647.2,306.7 648.1,306.7 649.0,306.7 649.9,306.7" fill="none" stroke="#1a1a1a" stroke-width="0.85" stroke-linejoin="round"/>
<polygon points="380.1,203.8 381.5,203.0 382.8,202.2 384.2,201.3 385.5,200.4 386.9,199.4 388.2,198.4 389.1,197.8 389.6,197.4 390.9,196.4 392.3,195.3 393.7,194.1 395.0,193.0 396.4,191.8 396.8,191.4 397.7,190.6 399.1,189.4 400.4,188.1 401.0,187.6 401.8,186.9 403.1,185.7 404.3,184.6 404.5,184.4 405.9,183.1 407.2,181.6 408.1,180.6 408.6,180.0 409.9,178.1 410.8,176.8 411.3,176.0 412.6,173.5 414.0,170.8 415.4,167.9 416.0,166.6 416.7,165.1 418.1,162.1 419.0,160.3 419.4,159.6 420.8,157.7 421.3,157.0 422.1,155.8 423.5,153.7 424.8,151.7 425.8,150.4 426.2,149.9 427.6,148.3 428.9,146.7 430.3,145.4 430.4,145.3 431.6,144.3 433.0,143.3 434.3,142.3 435.7,141.5 435.7,141.5 437.0,140.7 438.4,140.0 439.8,139.3 441.0,138.8 441.1,138.8 442.5,138.2 443.8,137.8 445.2,137.3 446.5,136.9 447.9,136.5 448.1,136.4 449.2,136.1 450.6,135.7 452.0,135.3 453.3,134.9 454.7,134.5 456.0,134.1 456.9,133.9 457.4,133.8 458.7,133.4 460.1,133.1 461.4,132.7 462.8,132.3 464.2,132.0 465.5,131.6 465.8,131.5 466.9,131.2 468.2,130.7 469.6,130.3 470.9,129.8 472.3,129.3 473.6,128.8 474.7,128.4 475.0,128.3 476.4,127.7 477.7,127.1 479.1,126.5 480.4,125.9 481.8,125.2 483.1,124.6 484.5,123.9 485.9,123.3 487.2,122.7 487.2,122.7 488.6,122.1 489.9,121.5 491.3,120.9 492.6,120.4 494.0,119.8 495.3,119.2 496.7,118.6 498.1,118.0 499.4,117.4 499.8,117.2 500.8,116.7 502.1,116.1 503.5,115.4 504.8,114.8 506.2,114.1 507.5,113.4 508.9,112.7 510.3,112.0 511.6,111.3 513.0,110.6 513.0,110.6 514.3,109.9 515.7,109.2 517.0,108.5 518.4,107.8 519.7,107.1 521.1,106.3 522.5,105.6 523.8,104.9 525.2,104.2 526.5,103.4 527.9,102.7 529.2,101.9 530.6,101.2 531.9,100.5 533.3,99.7 534.7,99.0 536.0,98.2 537.4,97.5 538.1,97.1 538.7,96.8 540.1,96.0 541.4,95.3 542.8,94.5 544.1,93.8 545.5,93.1 546.9,92.3 548.2,91.6 549.6,90.8 550.9,90.1 552.3,89.4 553.6,88.6 555.0,87.8 556.4,87.1 557.7,86.3 559.1,85.6 560.4,84.8 561.8,84.0 563.1,83.2 563.3,83.1 564.5,82.4 565.8,81.6 567.2,80.7 568.6,79.9 569.9,79.1 571.3,78.2 572.6,77.4 574.0,76.5 575.3,75.7 575.8,75.4 576.7,74.9 578.0,74.0 579.4,73.2 580.8,72.4 582.1,71.6 583.5,70.8 584.8,70.0 586.2,69.2 587.5,68.3 588.4,67.8 588.9,67.5 590.2,66.7 591.6,65.8 593.0,64.9 594.3,64.1 595.7,63.2 597.0,62.3 598.4,61.5 599.7,60.6 600.9,59.8 601.1,59.7 602.4,58.8 603.8,57.8 605.2,56.9 606.5,55.9 607.9,55.0 609.2,54.0 610.6,53.1 611.9,52.1 613.3,51.1 613.5,51.0 614.6,50.2 616.0,49.3 617.4,48.3 618.7,47.4 620.1,46.4 621.4,45.5 622.8,44.6 624.1,43.6 625.5,42.6 626.1,42.2 626.9,41.7 628.2,40.7 629.6,39.7 630.9,38.7 632.3,37.6 633.6,36.6 635.0,35.6 636.3,34.6 637.7,33.6 638.6,32.9 639.1,32.6 640.4,31.6 641.8,30.6 643.1,29.6 644.5,28.6 645.8,27.6 647.2,26.6 648.5,25.6 649.9,24.6 649.9,208.9 648.5,208.6 647.2,208.3 645.8,208.0 644.5,207.7 643.1,207.4 641.8,207.1 640.4,206.8 639.1,206.5 637.7,206.2 636.3,205.9 635.0,205.6 633.6,205.3 632.3,205.0 630.9,204.7 629.6,204.4 628.2,204.1 626.9,203.8 625.5,203.5 624.1,203.1 622.8,202.8 621.4,202.5 620.1,202.2 618.7,201.9 617.4,201.6 616.0,201.3 614.6,201.0 613.3,200.7 611.9,200.4 610.6,200.1 609.2,199.8 607.9,199.5 606.5,199.2 605.2,198.9 603.8,198.6 602.4,198.2 601.1,197.9 599.7,197.6 598.4,197.3 597.0,197.0 595.7,196.7 594.3,196.4 593.0,196.1 591.6,195.8 590.2,195.5 588.9,195.2 587.5,194.8 586.2,194.5 584.8,194.2 583.5,193.9 582.1,193.6 580.8,193.3 580.8,193.3 579.4,193.0 578.0,192.7 576.7,192.4 575.3,192.0 574.0,191.7 572.6,191.4 571.3,191.1 569.9,190.8 568.6,190.5 567.2,190.2 565.8,189.9 564.5,189.5 563.1,189.2 561.8,188.9 560.4,188.6 559.1,188.3 557.7,188.0 556.4,187.7 555.0,187.4 553.6,187.0 552.3,186.7 550.9,186.4 549.6,186.1 548.2,185.8 546.9,185.5 545.5,185.2 544.1,184.8 542.8,184.5 541.4,184.2 540.1,183.9 538.7,183.6 537.4,183.2 536.0,182.9 534.7,182.6 533.3,182.3 531.9,182.0 530.6,181.7 529.2,181.3 527.9,181.0 526.5,180.7 525.2,180.4 523.8,180.0 522.5,179.7 521.1,179.4 519.7,179.1 518.4,178.7 517.0,178.4 516.1,178.2 515.7,178.1 514.3,177.8 513.0,177.4 511.6,177.1 510.3,176.8 508.9,176.4 507.5,176.1 506.2,175.8 504.8,175.4 503.5,175.1 502.1,174.8 500.8,174.4 499.8,174.2 499.4,174.1 498.1,173.8 496.7,173.4 495.3,173.1 494.0,172.8 492.6,172.4 491.3,172.1 489.9,171.8 488.6,171.4 487.2,171.1 485.9,170.8 484.5,170.5 483.1,170.2 482.2,170.0 481.8,169.9 480.4,169.6 479.1,169.4 477.7,169.1 476.4,168.8 475.0,168.6 475.0,168.6 473.6,168.4 472.3,168.1 470.9,167.9 469.6,167.7 468.2,167.5 466.9,167.3 466.2,167.2 465.5,167.1 464.2,166.9 462.8,166.7 461.4,166.4 460.1,166.2 458.7,166.1 458.2,166.0 457.4,165.9 456.0,165.8 454.7,165.6 453.3,165.5 452.0,165.4 450.6,165.3 450.1,165.3 449.2,165.3 447.9,165.3 446.5,165.2 445.2,165.2 443.8,165.2 443.0,165.2 442.5,165.2 441.1,165.3 439.8,165.4 438.4,165.5 437.6,165.6 437.0,165.7 435.7,165.9 434.3,166.1 433.0,166.4 432.3,166.6 431.6,166.8 430.3,167.2 428.9,167.7 427.6,168.2 427.0,168.4 426.2,168.7 424.8,169.4 423.5,170.1 422.1,170.8 421.7,171.0 420.8,171.5 419.4,172.2 418.1,172.9 416.7,173.7 416.0,174.2 415.4,174.7 414.0,175.9 412.6,177.2 411.3,178.7 410.8,179.2 409.9,180.3 408.6,182.1 408.1,182.8 407.2,184.2 405.9,186.5 404.5,189.0 404.3,189.4 403.1,191.9 401.8,195.2 401.0,197.0 400.4,198.2 399.1,201.1 397.7,203.8 396.9,205.4 396.4,206.4 395.0,209.0 393.7,211.5 392.3,213.9 390.9,216.3 389.6,218.7 389.1,219.6 388.2,221.1 386.9,223.5 385.5,225.9 384.2,228.3 382.8,230.6 381.5,232.9 380.1,235.2" fill="#ff0000" fill-opacity="0.225"/>
<polyline points="380.1,221.0 381.5,219.6 382.8,218.2 384.2,216.6 385.5,215.0 386.9,213.4 388.2,211.6 389.4,210.1 389.6,209.8 390.9,207.9 392.3,205.9 393.7,203.8 395.0,201.6 396.4,199.4 397.1,198.3 397.7,197.3 399.1,195.1 400.4,193.0 401.8,190.8 403.1,188.6 404.3,186.9 404.5,186.6 405.9,184.7 407.2,182.8 408.1,181.6 408.6,181.0 409.9,179.1 410.8,177.9 411.3,177.2 412.6,175.1 414.0,173.1 415.4,171.1 416.0,170.2 416.7,169.3 418.1,167.7 419.4,166.1 420.8,164.7 421.3,164.2 422.1,163.4 423.5,162.2 424.8,161.0 426.2,159.9 426.6,159.6 427.6,158.9 428.9,157.8 430.3,156.9 431.2,156.3 431.6,156.1 433.0,155.3 434.3,154.6 435.7,154.0 435.7,154.0 437.0,153.5 438.4,153.1 439.8,152.8 441.0,152.5 441.1,152.5 442.5,152.2 443.8,151.9 445.2,151.7 446.5,151.5 447.9,151.3 448.1,151.3 449.2,151.2 450.6,151.0 452.0,150.9 453.3,150.7 454.7,150.6 456.0,150.5 456.9,150.4 457.4,150.4 458.7,150.2 460.1,150.1 461.4,150.0 462.8,149.9 464.2,149.8 465.5,149.7 465.8,149.7 466.9,149.6 468.2,149.6 469.6,149.5 470.9,149.4 472.3,149.3 473.6,149.3 475.0,149.2 475.0,149.2 476.4,149.1 477.7,149.1 479.1,149.0 480.4,148.9 481.8,148.9 483.1,148.8 484.5,148.8 485.9,148.7 487.2,148.6 488.6,148.6 489.9,148.5 491.3,148.5 492.6,148.4 494.0,148.3 494.7,148.3 495.3,148.3 496.7,148.2 498.1,148.1 499.4,148.1 500.8,148.0 502.1,148.0 503.5,147.9 504.8,147.8 506.2,147.8 507.5,147.7 508.9,147.6 510.3,147.6 511.6,147.5 513.0,147.5 514.3,147.4 515.7,147.3 516.1,147.3 517.0,147.3 518.4,147.2 519.7,147.1 521.1,147.1 522.5,147.0 523.8,146.9 525.2,146.9 526.5,146.8 527.9,146.7 529.2,146.7 530.6,146.6 531.9,146.5 533.3,146.5 534.7,146.4 536.0,146.3 537.4,146.3 538.7,146.2 540.1,146.1 541.4,146.1 542.8,146.0 544.1,145.9 545.5,145.9 546.9,145.8 548.2,145.7 549.6,145.7 550.9,145.6 552.3,145.5 553.6,145.5 555.0,145.4 556.4,145.3 557.7,145.3 559.1,145.2 560.4,145.1 561.8,145.0 563.1,145.0 564.5,144.9 565.8,144.8 567.2,144.8 568.6,144.7 569.9,144.6 571.3,144.6 572.6,144.5 574.0,144.4 575.3,144.4 576.7,144.3 578.0,144.2 579.4,144.2 580.8,144.1 582.1,144.0 583.5,143.9 584.8,143.9 586.2,143.8 587.5,143.7 588.9,143.7 590.2,143.6 591.6,143.5 593.0,143.5 594.3,143.4 595.7,143.3 597.0,143.2 598.4,143.2 599.7,143.1 601.1,143.0 602.4,143.0 603.8,142.9 605.2,142.8 606.5,142.7 607.9,142.7 609.2,142.6 610.6,142.5 611.9,142.5 613.3,142.4 614.6,142.3 616.0,142.2 617.4,142.2 618.7,142.1 620.1,142.0 621.4,142.0 622.8,141.9 624.1,141.8 625.5,141.7 626.9,141.7 628.2,141.6 629.6,141.5 630.9,141.4 632.3,141.4 633.6,141.3 635.0,141.2 636.3,141.1 637.7,141.1 639.1,141.0 640.4,140.9 641.8,140.9 643.1,140.8 644.5,140.7 645.8,140.6 647.2,140.6 648.5,140.5 649.9,140.4" fill="none" stroke="#f46666" stroke-width="1.15" stroke-linejoin="round"/>

<line x1="366.95" y1="10.5" x2="366.95" y2="320.79999999999995" stroke="#cdcdcd" stroke-width="2.0"/>
<line x1="663.55" y1="10.5" x2="663.55" y2="320.79999999999995" stroke="#8a8a8a" stroke-width="1.1"/>
<line x1="365.05" y1="53.4" x2="367.05" y2="53.4" stroke="#3a3a3a" stroke-width="0.8"/>
<text x="364.4" y="55.95" text-anchor="end" font-family="'Liberation Serif', serif" font-size="7.15" fill="#585858">2.0</text>
<line x1="365.05" y1="116.6" x2="367.05" y2="116.6" stroke="#3a3a3a" stroke-width="0.8"/>
<text x="364.4" y="119.15" text-anchor="end" font-family="'Liberation Serif', serif" font-size="7.15" fill="#585858">1.5</text>
<line x1="365.05" y1="180.0" x2="367.05" y2="180.0" stroke="#3a3a3a" stroke-width="0.8"/>
<text x="364.4" y="182.55" text-anchor="end" font-family="'Liberation Serif', serif" font-size="7.15" fill="#585858">1.0</text>
<line x1="365.05" y1="243.4" x2="367.05" y2="243.4" stroke="#3a3a3a" stroke-width="0.8"/>
<text x="364.4" y="245.95" text-anchor="end" font-family="'Liberation Serif', serif" font-size="7.15" fill="#585858">0.5</text>
<line x1="365.05" y1="306.7" x2="367.05" y2="306.7" stroke="#3a3a3a" stroke-width="0.8"/>
<text x="364.4" y="309.25" text-anchor="end" font-family="'Liberation Serif', serif" font-size="7.15" fill="#585858">0.0</text>
<line x1="663.45" y1="10.9" x2="665.35" y2="10.9" stroke="#3a3a3a" stroke-width="0.8"/>
<text x="666.6" y="13.45" font-family="'Liberation Serif', serif" font-size="7.15" fill="#585858">2.0</text>
<line x1="663.45" y1="88.3" x2="665.35" y2="88.3" stroke="#3a3a3a" stroke-width="0.8"/>
<text x="666.6" y="90.83" font-family="'Liberation Serif', serif" font-size="7.15" fill="#585858">1.5</text>
<line x1="663.45" y1="165.7" x2="665.35" y2="165.7" stroke="#3a3a3a" stroke-width="0.8"/>
<text x="666.6" y="168.20" font-family="'Liberation Serif', serif" font-size="7.15" fill="#585858">1.0</text>
<line x1="663.45" y1="243.0" x2="665.35" y2="243.0" stroke="#3a3a3a" stroke-width="0.8"/>
<text x="666.6" y="245.58" font-family="'Liberation Serif', serif" font-size="7.15" fill="#585858">0.5</text>
<line x1="663.45" y1="320.4" x2="665.35" y2="320.4" stroke="#3a3a3a" stroke-width="0.8"/>
<text x="666.6" y="322.95" font-family="'Liberation Serif', serif" font-size="7.15" fill="#585858">0.0</text>
<line x1="377.7" y1="320.4" x2="377.7" y2="322.29999999999995" stroke="#3a3a3a" stroke-width="0.8"/>
<text x="377.7" y="328.6" text-anchor="middle" font-family="'Liberation Serif', serif" font-size="7.15" fill="#585858">0</text>
<line x1="444.0" y1="320.4" x2="444.0" y2="322.29999999999995" stroke="#3a3a3a" stroke-width="0.8"/>
<text x="444.0" y="328.6" text-anchor="middle" font-family="'Liberation Serif', serif" font-size="7.15" fill="#585858">20</text>
<line x1="510.3" y1="320.4" x2="510.3" y2="322.29999999999995" stroke="#3a3a3a" stroke-width="0.8"/>
<text x="510.3" y="328.6" text-anchor="middle" font-family="'Liberation Serif', serif" font-size="7.15" fill="#585858">40</text>
<line x1="576.5" y1="320.4" x2="576.5" y2="322.29999999999995" stroke="#3a3a3a" stroke-width="0.8"/>
<text x="576.5" y="328.6" text-anchor="middle" font-family="'Liberation Serif', serif" font-size="7.15" fill="#585858">60</text>
<line x1="642.6" y1="320.4" x2="642.6" y2="322.29999999999995" stroke="#3a3a3a" stroke-width="0.8"/>
<text x="642.6" y="328.6" text-anchor="middle" font-family="'Liberation Serif', serif" font-size="7.15" fill="#585858">80</text>
<text x="515.5" y="337.3" text-anchor="middle" font-family="'Liberation Serif', serif" font-size="8.35" fill="#111">blood urea nitrogen to albumin ratio(BAR)</text>
<text transform="translate(351.9,165.4) rotate(-90)" text-anchor="middle" font-family="'Liberation Serif', serif" font-size="8.43" fill="#111">all-cause mortality HR (95%CI)</text>
<text transform="translate(678.0,165.6) rotate(90)" text-anchor="middle" font-family="'Liberation Serif', serif" font-size="8.5" fill="#111">Density</text>
<text x="367.1" y="5.6" font-family="'Liberation Serif', serif" font-size="7.8" fill="#111">BAR and mortality HR: <tspan font-size="7.05" stroke="#111" stroke-width="0.18">Number = 3420</tspan></text>
<text x="348.8" y="337.1" font-family="'Liberation Sans', sans-serif" font-size="10" fill="#1a1a1a" stroke="#1a1a1a" stroke-width="0.15">B</text>
</svg>
</body></html>
